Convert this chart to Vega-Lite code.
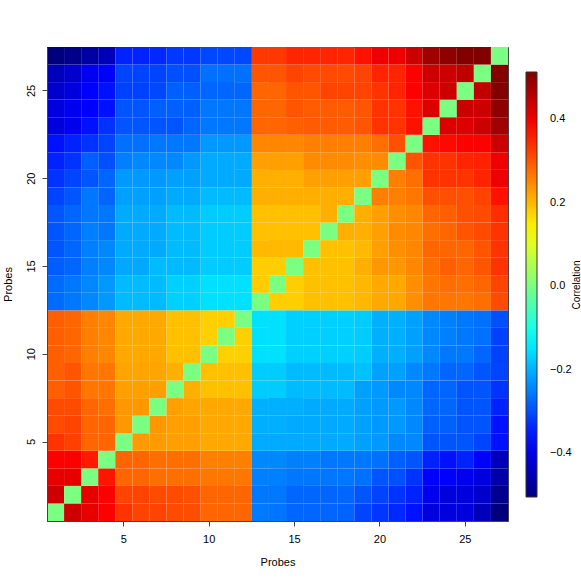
{
  "$schema": "https://vega.github.io/schema/vega-lite/v6.json",
  "autosize": {"type": "none"},
  "padding": {"left": 47, "top": 47, "right": 73, "bottom": 60},
  "width": 461,
  "height": 474,
  "background": "white",
  "config": {
    "font": "Liberation Sans",
    "view": {"stroke": "#444", "strokeWidth": 1},
    "axis": {"labelFont": "Liberation Sans", "titleFont": "Liberation Sans", "labelFontSize": 11, "titleFontSize": 11, "titleFontWeight": "normal", "labelColor": "#000", "titleColor": "#000", "domainColor": "#444", "tickColor": "#444", "grid": false},
    "legend": {"labelFont": "Liberation Sans", "titleFont": "Liberation Sans"}
  },
  "data": {"values": [
{"x":1,"y":1,"v":0},{"x":2,"y":1,"v":0.437},{"x":3,"y":1,"v":0.411},{"x":4,"y":1,"v":0.386},{"x":5,"y":1,"v":0.335},{"x":6,"y":1,"v":0.318},{"x":7,"y":1,"v":0.318},{"x":8,"y":1,"v":0.31},{"x":9,"y":1,"v":0.308},{"x":10,"y":1,"v":0.284},{"x":11,"y":1,"v":0.284},{"x":12,"y":1,"v":0.284},{"x":13,"y":1,"v":-0.255},{"x":14,"y":1,"v":-0.26},{"x":15,"y":1,"v":-0.276},{"x":16,"y":1,"v":-0.276},{"x":17,"y":1,"v":-0.276},{"x":18,"y":1,"v":-0.28},{"x":19,"y":1,"v":-0.31},{"x":20,"y":1,"v":-0.324},{"x":21,"y":1,"v":-0.338},{"x":22,"y":1,"v":-0.361},{"x":23,"y":1,"v":-0.411},{"x":24,"y":1,"v":-0.411},{"x":25,"y":1,"v":-0.411},{"x":26,"y":1,"v":-0.445},{"x":27,"y":1,"v":-0.505},
{"x":1,"y":2,"v":0.437},{"x":2,"y":2,"v":0},{"x":3,"y":2,"v":0.411},{"x":4,"y":2,"v":0.386},{"x":5,"y":2,"v":0.318},{"x":6,"y":2,"v":0.318},{"x":7,"y":2,"v":0.31},{"x":8,"y":2,"v":0.31},{"x":9,"y":2,"v":0.306},{"x":10,"y":2,"v":0.284},{"x":11,"y":2,"v":0.284},{"x":12,"y":2,"v":0.284},{"x":13,"y":2,"v":-0.259},{"x":14,"y":2,"v":-0.259},{"x":15,"y":2,"v":-0.276},{"x":16,"y":2,"v":-0.276},{"x":17,"y":2,"v":-0.276},{"x":18,"y":2,"v":-0.276},{"x":19,"y":2,"v":-0.293},{"x":20,"y":2,"v":-0.31},{"x":21,"y":2,"v":-0.327},{"x":22,"y":2,"v":-0.344},{"x":23,"y":2,"v":-0.394},{"x":24,"y":2,"v":-0.411},{"x":25,"y":2,"v":-0.411},{"x":26,"y":2,"v":-0.428},{"x":27,"y":2,"v":-0.49},
{"x":1,"y":3,"v":0.411},{"x":2,"y":3,"v":0.411},{"x":3,"y":3,"v":0},{"x":4,"y":3,"v":0.365},{"x":5,"y":3,"v":0.284},{"x":6,"y":3,"v":0.284},{"x":7,"y":3,"v":0.274},{"x":8,"y":3,"v":0.274},{"x":9,"y":3,"v":0.274},{"x":10,"y":3,"v":0.267},{"x":11,"y":3,"v":0.267},{"x":12,"y":3,"v":0.267},{"x":13,"y":3,"v":-0.25},{"x":14,"y":3,"v":-0.25},{"x":15,"y":3,"v":-0.259},{"x":16,"y":3,"v":-0.259},{"x":17,"y":3,"v":-0.259},{"x":18,"y":3,"v":-0.259},{"x":19,"y":3,"v":-0.266},{"x":20,"y":3,"v":-0.293},{"x":21,"y":3,"v":-0.298},{"x":22,"y":3,"v":-0.327},{"x":23,"y":3,"v":-0.378},{"x":24,"y":3,"v":-0.378},{"x":25,"y":3,"v":-0.394},{"x":26,"y":3,"v":-0.411},{"x":27,"y":3,"v":-0.462},
{"x":1,"y":4,"v":0.386},{"x":2,"y":4,"v":0.386},{"x":3,"y":4,"v":0.36},{"x":4,"y":4,"v":0},{"x":5,"y":4,"v":0.284},{"x":6,"y":4,"v":0.284},{"x":7,"y":4,"v":0.274},{"x":8,"y":4,"v":0.274},{"x":9,"y":4,"v":0.274},{"x":10,"y":4,"v":0.258},{"x":11,"y":4,"v":0.258},{"x":12,"y":4,"v":0.258},{"x":13,"y":4,"v":-0.242},{"x":14,"y":4,"v":-0.242},{"x":15,"y":4,"v":-0.25},{"x":16,"y":4,"v":-0.25},{"x":17,"y":4,"v":-0.259},{"x":18,"y":4,"v":-0.259},{"x":19,"y":4,"v":-0.259},{"x":20,"y":4,"v":-0.266},{"x":21,"y":4,"v":-0.282},{"x":22,"y":4,"v":-0.293},{"x":23,"y":4,"v":-0.344},{"x":24,"y":4,"v":-0.361},{"x":25,"y":4,"v":-0.344},{"x":26,"y":4,"v":-0.378},{"x":27,"y":4,"v":-0.445},
{"x":1,"y":5,"v":0.335},{"x":2,"y":5,"v":0.322},{"x":3,"y":5,"v":0.284},{"x":4,"y":5,"v":0.284},{"x":5,"y":5,"v":0},{"x":6,"y":5,"v":0.23},{"x":7,"y":5,"v":0.23},{"x":8,"y":5,"v":0.226},{"x":9,"y":5,"v":0.226},{"x":10,"y":5,"v":0.216},{"x":11,"y":5,"v":0.216},{"x":12,"y":5,"v":0.216},{"x":13,"y":5,"v":-0.208},{"x":14,"y":5,"v":-0.208},{"x":15,"y":5,"v":-0.208},{"x":16,"y":5,"v":-0.208},{"x":17,"y":5,"v":-0.208},{"x":18,"y":5,"v":-0.208},{"x":19,"y":5,"v":-0.218},{"x":20,"y":5,"v":-0.225},{"x":21,"y":5,"v":-0.242},{"x":22,"y":5,"v":-0.242},{"x":23,"y":5,"v":-0.293},{"x":24,"y":5,"v":-0.293},{"x":25,"y":5,"v":-0.293},{"x":26,"y":5,"v":-0.31},{"x":27,"y":5,"v":-0.361},
{"x":1,"y":6,"v":0.31},{"x":2,"y":6,"v":0.318},{"x":3,"y":6,"v":0.284},{"x":4,"y":6,"v":0.284},{"x":5,"y":6,"v":0.233},{"x":6,"y":6,"v":0},{"x":7,"y":6,"v":0.233},{"x":8,"y":6,"v":0.226},{"x":9,"y":6,"v":0.226},{"x":10,"y":6,"v":0.216},{"x":11,"y":6,"v":0.216},{"x":12,"y":6,"v":0.216},{"x":13,"y":6,"v":-0.202},{"x":14,"y":6,"v":-0.202},{"x":15,"y":6,"v":-0.208},{"x":16,"y":6,"v":-0.208},{"x":17,"y":6,"v":-0.208},{"x":18,"y":6,"v":-0.208},{"x":19,"y":6,"v":-0.218},{"x":20,"y":6,"v":-0.225},{"x":21,"y":6,"v":-0.225},{"x":22,"y":6,"v":-0.242},{"x":23,"y":6,"v":-0.282},{"x":24,"y":6,"v":-0.282},{"x":25,"y":6,"v":-0.293},{"x":26,"y":6,"v":-0.293},{"x":27,"y":6,"v":-0.361},
{"x":1,"y":7,"v":0.31},{"x":2,"y":7,"v":0.31},{"x":3,"y":7,"v":0.284},{"x":4,"y":7,"v":0.274},{"x":5,"y":7,"v":0.233},{"x":6,"y":7,"v":0.233},{"x":7,"y":7,"v":0},{"x":8,"y":7,"v":0.226},{"x":9,"y":7,"v":0.221},{"x":10,"y":7,"v":0.216},{"x":11,"y":7,"v":0.216},{"x":12,"y":7,"v":0.216},{"x":13,"y":7,"v":-0.202},{"x":14,"y":7,"v":-0.202},{"x":15,"y":7,"v":-0.202},{"x":16,"y":7,"v":-0.208},{"x":17,"y":7,"v":-0.208},{"x":18,"y":7,"v":-0.208},{"x":19,"y":7,"v":-0.218},{"x":20,"y":7,"v":-0.225},{"x":21,"y":7,"v":-0.225},{"x":22,"y":7,"v":-0.242},{"x":23,"y":7,"v":-0.276},{"x":24,"y":7,"v":-0.276},{"x":25,"y":7,"v":-0.293},{"x":26,"y":7,"v":-0.293},{"x":27,"y":7,"v":-0.344},
{"x":1,"y":8,"v":0.29},{"x":2,"y":8,"v":0.301},{"x":3,"y":8,"v":0.267},{"x":4,"y":8,"v":0.267},{"x":5,"y":8,"v":0.226},{"x":6,"y":8,"v":0.226},{"x":7,"y":8,"v":0.226},{"x":8,"y":8,"v":0},{"x":9,"y":8,"v":0.21},{"x":10,"y":8,"v":0.194},{"x":11,"y":8,"v":0.194},{"x":12,"y":8,"v":0.194},{"x":13,"y":8,"v":-0.174},{"x":14,"y":8,"v":-0.174},{"x":15,"y":8,"v":-0.191},{"x":16,"y":8,"v":-0.191},{"x":17,"y":8,"v":-0.191},{"x":18,"y":8,"v":-0.191},{"x":19,"y":8,"v":-0.218},{"x":20,"y":8,"v":-0.225},{"x":21,"y":8,"v":-0.242},{"x":22,"y":8,"v":-0.242},{"x":23,"y":8,"v":-0.276},{"x":24,"y":8,"v":-0.276},{"x":25,"y":8,"v":-0.293},{"x":26,"y":8,"v":-0.293},{"x":27,"y":8,"v":-0.327},
{"x":1,"y":9,"v":0.29},{"x":2,"y":9,"v":0.301},{"x":3,"y":9,"v":0.267},{"x":4,"y":9,"v":0.267},{"x":5,"y":9,"v":0.221},{"x":6,"y":9,"v":0.221},{"x":7,"y":9,"v":0.221},{"x":8,"y":9,"v":0.21},{"x":9,"y":9,"v":0},{"x":10,"y":9,"v":0.194},{"x":11,"y":9,"v":0.194},{"x":12,"y":9,"v":0.194},{"x":13,"y":9,"v":-0.174},{"x":14,"y":9,"v":-0.174},{"x":15,"y":9,"v":-0.191},{"x":16,"y":9,"v":-0.191},{"x":17,"y":9,"v":-0.191},{"x":18,"y":9,"v":-0.191},{"x":19,"y":9,"v":-0.185},{"x":20,"y":9,"v":-0.218},{"x":21,"y":9,"v":-0.218},{"x":22,"y":9,"v":-0.242},{"x":23,"y":9,"v":-0.259},{"x":24,"y":9,"v":-0.276},{"x":25,"y":9,"v":-0.276},{"x":26,"y":9,"v":-0.293},{"x":27,"y":9,"v":-0.31},
{"x":1,"y":10,"v":0.29},{"x":2,"y":10,"v":0.284},{"x":3,"y":10,"v":0.258},{"x":4,"y":10,"v":0.25},{"x":5,"y":10,"v":0.216},{"x":6,"y":10,"v":0.216},{"x":7,"y":10,"v":0.216},{"x":8,"y":10,"v":0.194},{"x":9,"y":10,"v":0.194},{"x":10,"y":10,"v":0},{"x":11,"y":10,"v":0.178},{"x":12,"y":10,"v":0.178},{"x":13,"y":10,"v":-0.154},{"x":14,"y":10,"v":-0.154},{"x":15,"y":10,"v":-0.17},{"x":16,"y":10,"v":-0.17},{"x":17,"y":10,"v":-0.17},{"x":18,"y":10,"v":-0.17},{"x":19,"y":10,"v":-0.174},{"x":20,"y":10,"v":-0.202},{"x":21,"y":10,"v":-0.202},{"x":22,"y":10,"v":-0.218},{"x":23,"y":10,"v":-0.242},{"x":24,"y":10,"v":-0.259},{"x":25,"y":10,"v":-0.259},{"x":26,"y":10,"v":-0.276},{"x":27,"y":10,"v":-0.314},
{"x":1,"y":11,"v":0.29},{"x":2,"y":11,"v":0.284},{"x":3,"y":11,"v":0.258},{"x":4,"y":11,"v":0.25},{"x":5,"y":11,"v":0.216},{"x":6,"y":11,"v":0.216},{"x":7,"y":11,"v":0.216},{"x":8,"y":11,"v":0.194},{"x":9,"y":11,"v":0.194},{"x":10,"y":11,"v":0.178},{"x":11,"y":11,"v":0},{"x":12,"y":11,"v":0.178},{"x":13,"y":11,"v":-0.154},{"x":14,"y":11,"v":-0.154},{"x":15,"y":11,"v":-0.17},{"x":16,"y":11,"v":-0.17},{"x":17,"y":11,"v":-0.17},{"x":18,"y":11,"v":-0.17},{"x":19,"y":11,"v":-0.174},{"x":20,"y":11,"v":-0.202},{"x":21,"y":11,"v":-0.202},{"x":22,"y":11,"v":-0.218},{"x":23,"y":11,"v":-0.242},{"x":24,"y":11,"v":-0.25},{"x":25,"y":11,"v":-0.259},{"x":26,"y":11,"v":-0.266},{"x":27,"y":11,"v":-0.314},
{"x":1,"y":12,"v":0.29},{"x":2,"y":12,"v":0.284},{"x":3,"y":12,"v":0.258},{"x":4,"y":12,"v":0.25},{"x":5,"y":12,"v":0.216},{"x":6,"y":12,"v":0.216},{"x":7,"y":12,"v":0.216},{"x":8,"y":12,"v":0.194},{"x":9,"y":12,"v":0.194},{"x":10,"y":12,"v":0.178},{"x":11,"y":12,"v":0.178},{"x":12,"y":12,"v":0},{"x":13,"y":12,"v":-0.154},{"x":14,"y":12,"v":-0.154},{"x":15,"y":12,"v":-0.17},{"x":16,"y":12,"v":-0.17},{"x":17,"y":12,"v":-0.17},{"x":18,"y":12,"v":-0.17},{"x":19,"y":12,"v":-0.174},{"x":20,"y":12,"v":-0.202},{"x":21,"y":12,"v":-0.202},{"x":22,"y":12,"v":-0.218},{"x":23,"y":12,"v":-0.242},{"x":24,"y":12,"v":-0.25},{"x":25,"y":12,"v":-0.259},{"x":26,"y":12,"v":-0.266},{"x":27,"y":12,"v":-0.298},
{"x":1,"y":13,"v":-0.27},{"x":2,"y":13,"v":-0.259},{"x":3,"y":13,"v":-0.242},{"x":4,"y":13,"v":-0.225},{"x":5,"y":13,"v":-0.191},{"x":6,"y":13,"v":-0.191},{"x":7,"y":13,"v":-0.191},{"x":8,"y":13,"v":-0.17},{"x":9,"y":13,"v":-0.17},{"x":10,"y":13,"v":-0.154},{"x":11,"y":13,"v":-0.154},{"x":12,"y":13,"v":-0.154},{"x":13,"y":13,"v":0},{"x":14,"y":13,"v":0.18},{"x":15,"y":13,"v":0.18},{"x":16,"y":13,"v":0.194},{"x":17,"y":13,"v":0.194},{"x":18,"y":13,"v":0.194},{"x":19,"y":13,"v":0.202},{"x":20,"y":13,"v":0.216},{"x":21,"y":13,"v":0.216},{"x":22,"y":13,"v":0.242},{"x":23,"y":13,"v":0.267},{"x":24,"y":13,"v":0.267},{"x":25,"y":13,"v":0.267},{"x":26,"y":13,"v":0.274},{"x":27,"y":13,"v":0.31},
{"x":1,"y":14,"v":-0.27},{"x":2,"y":14,"v":-0.259},{"x":3,"y":14,"v":-0.242},{"x":4,"y":14,"v":-0.225},{"x":5,"y":14,"v":-0.191},{"x":6,"y":14,"v":-0.191},{"x":7,"y":14,"v":-0.191},{"x":8,"y":14,"v":-0.17},{"x":9,"y":14,"v":-0.17},{"x":10,"y":14,"v":-0.154},{"x":11,"y":14,"v":-0.154},{"x":12,"y":14,"v":-0.154},{"x":13,"y":14,"v":0.182},{"x":14,"y":14,"v":0},{"x":15,"y":14,"v":0.18},{"x":16,"y":14,"v":0.194},{"x":17,"y":14,"v":0.194},{"x":18,"y":14,"v":0.194},{"x":19,"y":14,"v":0.202},{"x":20,"y":14,"v":0.216},{"x":21,"y":14,"v":0.216},{"x":22,"y":14,"v":0.242},{"x":23,"y":14,"v":0.267},{"x":24,"y":14,"v":0.274},{"x":25,"y":14,"v":0.274},{"x":26,"y":14,"v":0.284},{"x":27,"y":14,"v":0.318},
{"x":1,"y":15,"v":-0.285},{"x":2,"y":15,"v":-0.276},{"x":3,"y":15,"v":-0.25},{"x":4,"y":15,"v":-0.242},{"x":5,"y":15,"v":-0.21},{"x":6,"y":15,"v":-0.21},{"x":7,"y":15,"v":-0.191},{"x":8,"y":15,"v":-0.191},{"x":9,"y":15,"v":-0.191},{"x":10,"y":15,"v":-0.174},{"x":11,"y":15,"v":-0.174},{"x":12,"y":15,"v":-0.174},{"x":13,"y":15,"v":0.18},{"x":14,"y":15,"v":0.18},{"x":15,"y":15,"v":0},{"x":16,"y":15,"v":0.194},{"x":17,"y":15,"v":0.194},{"x":18,"y":15,"v":0.194},{"x":19,"y":15,"v":0.21},{"x":20,"y":15,"v":0.233},{"x":21,"y":15,"v":0.233},{"x":22,"y":15,"v":0.25},{"x":23,"y":15,"v":0.274},{"x":24,"y":15,"v":0.29},{"x":25,"y":15,"v":0.284},{"x":26,"y":15,"v":0.301},{"x":27,"y":15,"v":0.335},
{"x":1,"y":16,"v":-0.293},{"x":2,"y":16,"v":-0.276},{"x":3,"y":16,"v":-0.25},{"x":4,"y":16,"v":-0.242},{"x":5,"y":16,"v":-0.208},{"x":6,"y":16,"v":-0.208},{"x":7,"y":16,"v":-0.208},{"x":8,"y":16,"v":-0.191},{"x":9,"y":16,"v":-0.191},{"x":10,"y":16,"v":-0.174},{"x":11,"y":16,"v":-0.174},{"x":12,"y":16,"v":-0.174},{"x":13,"y":16,"v":0.199},{"x":14,"y":16,"v":0.199},{"x":15,"y":16,"v":0.199},{"x":16,"y":16,"v":0},{"x":17,"y":16,"v":0.194},{"x":18,"y":16,"v":0.194},{"x":19,"y":16,"v":0.199},{"x":20,"y":16,"v":0.226},{"x":21,"y":16,"v":0.242},{"x":22,"y":16,"v":0.25},{"x":23,"y":16,"v":0.284},{"x":24,"y":16,"v":0.284},{"x":25,"y":16,"v":0.284},{"x":26,"y":16,"v":0.301},{"x":27,"y":16,"v":0.335},
{"x":1,"y":17,"v":-0.293},{"x":2,"y":17,"v":-0.276},{"x":3,"y":17,"v":-0.25},{"x":4,"y":17,"v":-0.259},{"x":5,"y":17,"v":-0.208},{"x":6,"y":17,"v":-0.208},{"x":7,"y":17,"v":-0.208},{"x":8,"y":17,"v":-0.191},{"x":9,"y":17,"v":-0.191},{"x":10,"y":17,"v":-0.174},{"x":11,"y":17,"v":-0.174},{"x":12,"y":17,"v":-0.174},{"x":13,"y":17,"v":0.194},{"x":14,"y":17,"v":0.194},{"x":15,"y":17,"v":0.194},{"x":16,"y":17,"v":0.194},{"x":17,"y":17,"v":0},{"x":18,"y":17,"v":0.21},{"x":19,"y":17,"v":0.21},{"x":20,"y":17,"v":0.226},{"x":21,"y":17,"v":0.246},{"x":22,"y":17,"v":0.25},{"x":23,"y":17,"v":0.274},{"x":24,"y":17,"v":0.284},{"x":25,"y":17,"v":0.301},{"x":26,"y":17,"v":0.31},{"x":27,"y":17,"v":0.335},
{"x":1,"y":18,"v":-0.293},{"x":2,"y":18,"v":-0.276},{"x":3,"y":18,"v":-0.259},{"x":4,"y":18,"v":-0.259},{"x":5,"y":18,"v":-0.208},{"x":6,"y":18,"v":-0.208},{"x":7,"y":18,"v":-0.208},{"x":8,"y":18,"v":-0.191},{"x":9,"y":18,"v":-0.191},{"x":10,"y":18,"v":-0.174},{"x":11,"y":18,"v":-0.174},{"x":12,"y":18,"v":-0.174},{"x":13,"y":18,"v":0.194},{"x":14,"y":18,"v":0.194},{"x":15,"y":18,"v":0.194},{"x":16,"y":18,"v":0.194},{"x":17,"y":18,"v":0.21},{"x":18,"y":18,"v":0},{"x":19,"y":18,"v":0.21},{"x":20,"y":18,"v":0.226},{"x":21,"y":18,"v":0.242},{"x":22,"y":18,"v":0.25},{"x":23,"y":18,"v":0.284},{"x":24,"y":18,"v":0.29},{"x":25,"y":18,"v":0.306},{"x":26,"y":18,"v":0.31},{"x":27,"y":18,"v":0.34},
{"x":1,"y":19,"v":-0.31},{"x":2,"y":19,"v":-0.293},{"x":3,"y":19,"v":-0.259},{"x":4,"y":19,"v":-0.276},{"x":5,"y":19,"v":-0.218},{"x":6,"y":19,"v":-0.218},{"x":7,"y":19,"v":-0.218},{"x":8,"y":19,"v":-0.208},{"x":9,"y":19,"v":-0.208},{"x":10,"y":19,"v":-0.191},{"x":11,"y":19,"v":-0.191},{"x":12,"y":19,"v":-0.191},{"x":13,"y":19,"v":0.21},{"x":14,"y":19,"v":0.21},{"x":15,"y":19,"v":0.21},{"x":16,"y":19,"v":0.21},{"x":17,"y":19,"v":0.21},{"x":18,"y":19,"v":0.21},{"x":19,"y":19,"v":0},{"x":20,"y":19,"v":0.258},{"x":21,"y":19,"v":0.258},{"x":22,"y":19,"v":0.267},{"x":23,"y":19,"v":0.306},{"x":24,"y":19,"v":0.306},{"x":25,"y":19,"v":0.306},{"x":26,"y":19,"v":0.318},{"x":27,"y":19,"v":0.369},
{"x":1,"y":20,"v":-0.327},{"x":2,"y":20,"v":-0.31},{"x":3,"y":20,"v":-0.293},{"x":4,"y":20,"v":-0.276},{"x":5,"y":20,"v":-0.225},{"x":6,"y":20,"v":-0.225},{"x":7,"y":20,"v":-0.225},{"x":8,"y":20,"v":-0.218},{"x":9,"y":20,"v":-0.218},{"x":10,"y":20,"v":-0.208},{"x":11,"y":20,"v":-0.208},{"x":12,"y":20,"v":-0.208},{"x":13,"y":20,"v":0.21},{"x":14,"y":20,"v":0.21},{"x":15,"y":20,"v":0.21},{"x":16,"y":20,"v":0.226},{"x":17,"y":20,"v":0.226},{"x":18,"y":20,"v":0.226},{"x":19,"y":20,"v":0.226},{"x":20,"y":20,"v":0},{"x":21,"y":20,"v":0.258},{"x":22,"y":20,"v":0.274},{"x":23,"y":20,"v":0.335},{"x":24,"y":20,"v":0.335},{"x":25,"y":20,"v":0.335},{"x":26,"y":20,"v":0.35},{"x":27,"y":20,"v":0.403},
{"x":1,"y":21,"v":-0.344},{"x":2,"y":21,"v":-0.327},{"x":3,"y":21,"v":-0.282},{"x":4,"y":21,"v":-0.298},{"x":5,"y":21,"v":-0.25},{"x":6,"y":21,"v":-0.242},{"x":7,"y":21,"v":-0.242},{"x":8,"y":21,"v":-0.242},{"x":9,"y":21,"v":-0.225},{"x":10,"y":21,"v":-0.208},{"x":11,"y":21,"v":-0.208},{"x":12,"y":21,"v":-0.208},{"x":13,"y":21,"v":0.226},{"x":14,"y":21,"v":0.226},{"x":15,"y":21,"v":0.226},{"x":16,"y":21,"v":0.246},{"x":17,"y":21,"v":0.246},{"x":18,"y":21,"v":0.246},{"x":19,"y":21,"v":0.242},{"x":20,"y":21,"v":0.246},{"x":21,"y":21,"v":0},{"x":22,"y":21,"v":0.301},{"x":23,"y":21,"v":0.335},{"x":24,"y":21,"v":0.335},{"x":25,"y":21,"v":0.349},{"x":26,"y":21,"v":0.352},{"x":27,"y":21,"v":0.403},
{"x":1,"y":22,"v":-0.361},{"x":2,"y":22,"v":-0.344},{"x":3,"y":22,"v":-0.327},{"x":4,"y":22,"v":-0.31},{"x":5,"y":22,"v":-0.266},{"x":6,"y":22,"v":-0.266},{"x":7,"y":22,"v":-0.259},{"x":8,"y":22,"v":-0.259},{"x":9,"y":22,"v":-0.259},{"x":10,"y":22,"v":-0.225},{"x":11,"y":22,"v":-0.225},{"x":12,"y":22,"v":-0.225},{"x":13,"y":22,"v":0.25},{"x":14,"y":22,"v":0.25},{"x":15,"y":22,"v":0.25},{"x":16,"y":22,"v":0.258},{"x":17,"y":22,"v":0.258},{"x":18,"y":22,"v":0.258},{"x":19,"y":22,"v":0.258},{"x":20,"y":22,"v":0.274},{"x":21,"y":22,"v":0.306},{"x":22,"y":22,"v":0},{"x":23,"y":22,"v":0.369},{"x":24,"y":22,"v":0.378},{"x":25,"y":22,"v":0.386},{"x":26,"y":22,"v":0.386},{"x":27,"y":22,"v":0.437},
{"x":1,"y":23,"v":-0.411},{"x":2,"y":23,"v":-0.394},{"x":3,"y":23,"v":-0.361},{"x":4,"y":23,"v":-0.327},{"x":5,"y":23,"v":-0.293},{"x":6,"y":23,"v":-0.293},{"x":7,"y":23,"v":-0.293},{"x":8,"y":23,"v":-0.293},{"x":9,"y":23,"v":-0.276},{"x":10,"y":23,"v":-0.259},{"x":11,"y":23,"v":-0.259},{"x":12,"y":23,"v":-0.259},{"x":13,"y":23,"v":0.284},{"x":14,"y":23,"v":0.284},{"x":15,"y":23,"v":0.29},{"x":16,"y":23,"v":0.294},{"x":17,"y":23,"v":0.294},{"x":18,"y":23,"v":0.294},{"x":19,"y":23,"v":0.301},{"x":20,"y":23,"v":0.335},{"x":21,"y":23,"v":0.335},{"x":22,"y":23,"v":0.369},{"x":23,"y":23,"v":0},{"x":24,"y":23,"v":0.42},{"x":25,"y":23,"v":0.42},{"x":26,"y":23,"v":0.437},{"x":27,"y":23,"v":0.481},
{"x":1,"y":24,"v":-0.411},{"x":2,"y":24,"v":-0.394},{"x":3,"y":24,"v":-0.378},{"x":4,"y":24,"v":-0.361},{"x":5,"y":24,"v":-0.293},{"x":6,"y":24,"v":-0.293},{"x":7,"y":24,"v":-0.282},{"x":8,"y":24,"v":-0.282},{"x":9,"y":24,"v":-0.282},{"x":10,"y":24,"v":-0.259},{"x":11,"y":24,"v":-0.259},{"x":12,"y":24,"v":-0.259},{"x":13,"y":24,"v":0.284},{"x":14,"y":24,"v":0.284},{"x":15,"y":24,"v":0.301},{"x":16,"y":24,"v":0.294},{"x":17,"y":24,"v":0.294},{"x":18,"y":24,"v":0.294},{"x":19,"y":24,"v":0.301},{"x":20,"y":24,"v":0.335},{"x":21,"y":24,"v":0.335},{"x":22,"y":24,"v":0.369},{"x":23,"y":24,"v":0.42},{"x":24,"y":24,"v":0},{"x":25,"y":24,"v":0.437},{"x":26,"y":24,"v":0.437},{"x":27,"y":24,"v":0.497},
{"x":1,"y":25,"v":-0.428},{"x":2,"y":25,"v":-0.411},{"x":3,"y":25,"v":-0.378},{"x":4,"y":25,"v":-0.361},{"x":5,"y":25,"v":-0.314},{"x":6,"y":25,"v":-0.314},{"x":7,"y":25,"v":-0.306},{"x":8,"y":25,"v":-0.282},{"x":9,"y":25,"v":-0.282},{"x":10,"y":25,"v":-0.276},{"x":11,"y":25,"v":-0.276},{"x":12,"y":25,"v":-0.276},{"x":13,"y":25,"v":0.284},{"x":14,"y":25,"v":0.284},{"x":15,"y":25,"v":0.301},{"x":16,"y":25,"v":0.301},{"x":17,"y":25,"v":0.318},{"x":18,"y":25,"v":0.318},{"x":19,"y":25,"v":0.318},{"x":20,"y":25,"v":0.335},{"x":21,"y":25,"v":0.35},{"x":22,"y":25,"v":0.386},{"x":23,"y":25,"v":0.42},{"x":24,"y":25,"v":0.437},{"x":25,"y":25,"v":0},{"x":26,"y":25,"v":0.449},{"x":27,"y":25,"v":0.51},
{"x":1,"y":26,"v":-0.445},{"x":2,"y":26,"v":-0.428},{"x":3,"y":26,"v":-0.394},{"x":4,"y":26,"v":-0.378},{"x":5,"y":26,"v":-0.31},{"x":6,"y":26,"v":-0.31},{"x":7,"y":26,"v":-0.31},{"x":8,"y":26,"v":-0.298},{"x":9,"y":26,"v":-0.298},{"x":10,"y":26,"v":-0.266},{"x":11,"y":26,"v":-0.266},{"x":12,"y":26,"v":-0.266},{"x":13,"y":26,"v":0.301},{"x":14,"y":26,"v":0.301},{"x":15,"y":26,"v":0.318},{"x":16,"y":26,"v":0.31},{"x":17,"y":26,"v":0.31},{"x":18,"y":26,"v":0.31},{"x":19,"y":26,"v":0.318},{"x":20,"y":26,"v":0.35},{"x":21,"y":26,"v":0.35},{"x":22,"y":26,"v":0.386},{"x":23,"y":26,"v":0.437},{"x":24,"y":26,"v":0.437},{"x":25,"y":26,"v":0.449},{"x":26,"y":26,"v":0},{"x":27,"y":26,"v":0.51},
{"x":1,"y":27,"v":-0.505},{"x":2,"y":27,"v":-0.494},{"x":3,"y":27,"v":-0.472},{"x":4,"y":27,"v":-0.445},{"x":5,"y":27,"v":-0.344},{"x":6,"y":27,"v":-0.344},{"x":7,"y":27,"v":-0.338},{"x":8,"y":27,"v":-0.322},{"x":9,"y":27,"v":-0.322},{"x":10,"y":27,"v":-0.306},{"x":11,"y":27,"v":-0.306},{"x":12,"y":27,"v":-0.306},{"x":13,"y":27,"v":0.33},{"x":14,"y":27,"v":0.33},{"x":15,"y":27,"v":0.349},{"x":16,"y":27,"v":0.349},{"x":17,"y":27,"v":0.349},{"x":18,"y":27,"v":0.349},{"x":19,"y":27,"v":0.369},{"x":20,"y":27,"v":0.403},{"x":21,"y":27,"v":0.403},{"x":22,"y":27,"v":0.437},{"x":23,"y":27,"v":0.481},{"x":24,"y":27,"v":0.497},{"x":25,"y":27,"v":0.51},{"x":26,"y":27,"v":0.51},{"x":27,"y":27,"v":0}
  ]},
  "mark": {"type": "rect", "strokeWidth": 0},
  "encoding": {
    "x": {
      "field": "x", "type": "ordinal",
      "scale": {"paddingInner": 0, "paddingOuter": 0},
      "axis": {"values": [5, 10, 15, 20, 25], "labelAngle": 0, "tickSize": 5, "labelPadding": 7, "title": "Probes", "titlePadding": 12}
    },
    "y": {
      "field": "y", "type": "ordinal", "sort": "descending",
      "scale": {"paddingInner": 0, "paddingOuter": 0},
      "axis": {"values": [5, 10, 15, 20, 25], "labelAngle": 270, "tickSize": 5, "labelPadding": 6, "title": "Probes", "titlePadding": 12}
    },
    "color": {
      "field": "v", "type": "quantitative",
      "scale": {
        "domain": [-0.505, -0.378, -0.251, -0.123, 0.004, 0.131, 0.258, 0.386, 0.513],
        "range": ["#00007F", "#0000FF", "#007FFF", "#00FFFF", "#7FFF7F", "#FFFF00", "#FF7F00", "#FF0000", "#7F0000"],
        "interpolate": "rgb"
      },
      "legend": {
        "orient": "none", "legendX": 479, "legendY": 25, "direction": "vertical",
        "gradientLength": 425, "gradientThickness": 11,
        "gradientStrokeColor": "#333", "gradientStrokeWidth": 1,
        "values": [-0.4, -0.2, 0, 0.2, 0.4], "format": ".1f", "labelOverlap": false,
        "labelFontSize": 11, "labelColor": "#000", "labelOffset": 13,
        "title": "Correlation", "titleOrient": "right", "titleFontSize": 10, "titleFontWeight": "normal", "titleColor": "#000", "titlePadding": 0, "titleAnchor": "middle",
        "encode": {"title": {"update": {"angle": {"value": 270}, "baseline": {"value": "top"}}}}
      }
    }
  }
}
